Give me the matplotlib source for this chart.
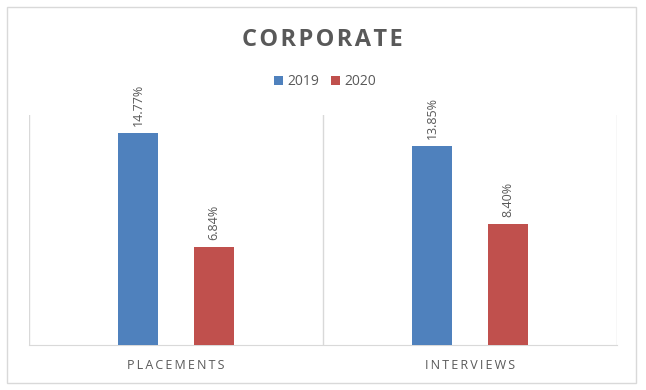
import numpy as np
import matplotlib.pyplot as plt
from matplotlib.patches import Rectangle

categories = ["PLACEMENTS", "INTERVIEWS"]
years = ["2019", "2020"]
values_2019 = [14.77, 13.85]
values_2020 = [6.84, 8.40]
colors = ["#4f81bd", "#c0504d"]
text_color = "#595959"
line_color = "#d9d9d9"

plt.rcParams['font.family'] = ['Open Sans', 'DejaVu Sans']

fig = plt.figure(figsize=(6.46, 3.9), dpi=100)
ax = fig.add_axes([0.0449, 0.1154, 0.9102, 0.5897])

x = np.arange(len(categories))
width = 0.136
offset = 0.129
series = [values_2019, values_2020]
for i, vals in enumerate(series):
    pos = x + (i * 2 - 1) * offset
    bars = ax.bar(pos, vals, width, color=colors[i], label=years[i], zorder=3)
    for b, v in zip(bars, vals):
        ax.annotate("%.2f%%" % v, (b.get_x() + b.get_width() / 2, v),
                    xytext=(0, 5), textcoords="offset points",
                    rotation=90, ha="center", va="bottom",
                    fontsize=9, color=text_color)

ax.set_xlim(-0.5, len(categories) - 0.5)
ax.set_ylim(0, 16)
ax.set_yticks([])
ax.set_xticks(x)
ax.set_xticklabels(["\u2009".join(c) for c in categories], fontsize=9, color=text_color)
ax.tick_params(axis="x", length=0, pad=10)
for s in ["top", "right", "left"]:
    ax.spines[s].set_visible(False)
ax.spines["bottom"].set_color(line_color)
for b in np.arange(-0.5, len(categories), 1.0):
    ax.axvline(b, color=line_color, lw=1, zorder=1)

fig.text(0.499, 0.898, "\u200a".join("CORPORATE"), ha="center", va="center",
         fontsize=17, fontweight="bold", color=text_color)

fig.legend(loc="center", bbox_to_anchor=(0.503, 0.79), ncol=2, frameon=False,
           fontsize=10, handlelength=0.7, handleheight=0.7, handletextpad=0.3,
           columnspacing=0.8, labelcolor=text_color)

fig.patches.append(Rectangle((7 / 646, 7 / 390), 629 / 646, 376 / 390,
                             transform=fig.transFigure, fill=False,
                             edgecolor=line_color, lw=1))

fig.savefig("out.png", dpi=100)
